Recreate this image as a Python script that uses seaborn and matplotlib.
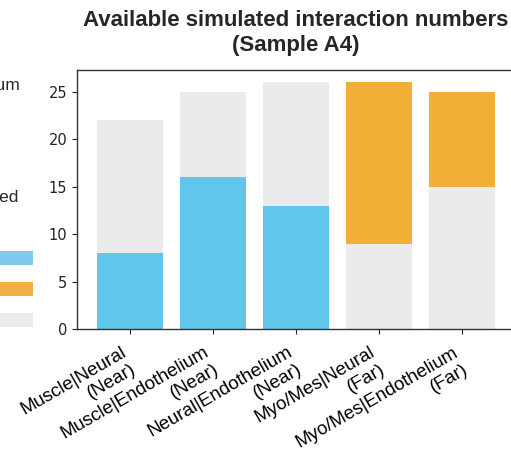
import matplotlib
matplotlib.use("Agg")
import matplotlib.pyplot as plt
import matplotlib.transforms as mtransforms
import seaborn as sns
from matplotlib.patches import Patch

# DATA
pairs = [
    "Muscle|Neural\n(Near)",
    "Muscle|Endothelium\n(Near)",
    "Neural|Endothelium\n(Near)",
    "Myo/Mes|Neural\n(Far)",
    "Myo/Mes|Endothelium\n(Far)",
]
total_available = [22, 25, 26, 26, 25]
lower_segment = [8, 16, 13, 9, 15]

BLUE = "#62C5EA"
ORANGE = "#F1AF38"
GRAY = "#EBEBEB"
back_colors = [GRAY, GRAY, GRAY, ORANGE, ORANGE]
front_colors = [BLUE, BLUE, BLUE, GRAY, GRAY]

legend_labels = ["Near simulated", "Far simulated", "Not simulated"]
legend_colors = ["#7FCBF0", "#F3B045", GRAY]

sns.set_style("ticks")
plt.rcParams["font.family"] = ["DejaVu Sans"]

fig = plt.figure(figsize=(5.11, 4.49), dpi=100)
ax = fig.add_axes([0.1507, 0.2673, 0.857, 0.5768])

# back layer: full height of each bar
sns.barplot(x=pairs, y=total_available, hue=pairs, palette=back_colors,
            legend=False, width=0.8, saturation=1, linewidth=0, ax=ax)
# front layer: lower segment
sns.barplot(x=pairs, y=lower_segment, hue=pairs, palette=front_colors,
            legend=False, width=0.8, saturation=1, linewidth=0, ax=ax)

ax.set_xlim(-0.64, 4.64)
ax.set_ylim(0, 27.3)
ax.set_yticks([0, 5, 10, 15, 20, 25])
ax.tick_params(axis="y", labelsize=10.5, colors="#222222")
ax.tick_params(axis="x", colors="#222222")
ax.set_xticks(range(len(pairs)))
ax.set_xticklabels(pairs, rotation=30, ha="right", fontsize=13.5,
                   family="Liberation Sans", color="black")
shift = mtransforms.ScaledTranslation(9 / 100, -5 / 100, fig.dpi_scale_trans)
for lab in ax.get_xticklabels():
    lab.set_transform(lab.get_transform() + shift)
ax.set_xlabel("")
ax.set_ylabel("")
for name, s in ax.spines.items():
    s.set_visible(name != "right")
    s.set_color("#333333")
    s.set_linewidth(1.0)

ax.set_title("Available simulated interaction numbers\n(Sample A4)",
             fontweight="bold", fontsize=16, family="Liberation Sans", pad=14)

# cropped legend on the left
fig.text(20 / 511, 1 - 85 / 449, "Medium", ha="right", va="center",
         fontsize=12.5, family="Liberation Sans")
fig.text(19 / 511, 1 - 197 / 449, "Simulated", ha="right", va="center",
         fontsize=12.5, family="Liberation Sans")
handles = [Patch(facecolor=c, edgecolor="none") for c in legend_colors]
fig.legend(handles, legend_labels, loc="center right",
           bbox_to_anchor=(48 / 511, 1 - 290 / 449), frameon=False,
           markerfirst=False, handlelength=2.5, handleheight=0.9,
           labelspacing=0.9, prop={"family": "Liberation Sans", "size": 12})

fig.savefig("out.png", dpi=100)
